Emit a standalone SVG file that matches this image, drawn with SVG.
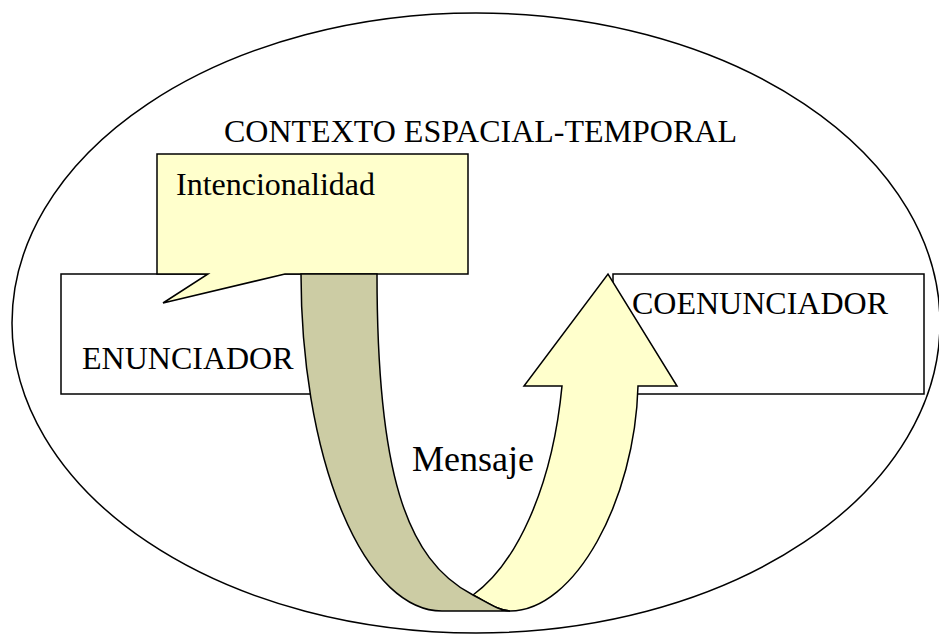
<svg xmlns="http://www.w3.org/2000/svg" width="939" height="635" viewBox="0 0 939 635">
<style>
  .ln{stroke:#000;stroke-width:1.5;stroke-linejoin:miter}
  .box{fill:#fff}
  .yel{fill:#FFFFCC}
  .dark{fill:#CCCCA4}
  .t{font-family:"Liberation Serif","Times New Roman",serif;font-size:32px;fill:#000}
</style>
<rect width="939" height="635" fill="#fff"/>
<g id="contexto">
  <ellipse cx="476" cy="323" rx="464" ry="310" fill="none" class="ln"/>
  <text class="t" x="224" y="142">CONTEXTO ESPACIAL-TEMPORAL</text>
</g>
<g id="enunciador">
  <rect x="61" y="274" width="260" height="120" class="box ln"/>
  <text class="t" x="82" y="369">ENUNCIADOR</text>
</g>
<g id="coenunciador">
  <rect x="613" y="274" width="311" height="120" class="box ln"/>
  <text class="t" x="632" y="314">COENUNCIADOR</text>
</g>
<g id="intencionalidad">
  <path d="M157,154 H468 V274 H285 L163,303 L208,274 H157 Z" class="yel ln"/>
  <text class="t" x="176" y="195">Intencionalidad</text>
</g>
<g id="connectors">
  <path d="M473,595 C515,565 552,490 562,386 L524,386 L608,274 L677,386 L638,386 C635,500 575,611 510,611 C500,611 490,604 473,595 Z" class="yel ln"/>
  <path d="M301,274 A141,337 0 0 0 442,611 L510,611 C500,611 490,604 473,595 C405,560 377,470 377,274 Z" class="dark ln"/>
  <text class="t" x="412" y="471" style="font-size:36px">Mensaje</text>
</g>
</svg>
